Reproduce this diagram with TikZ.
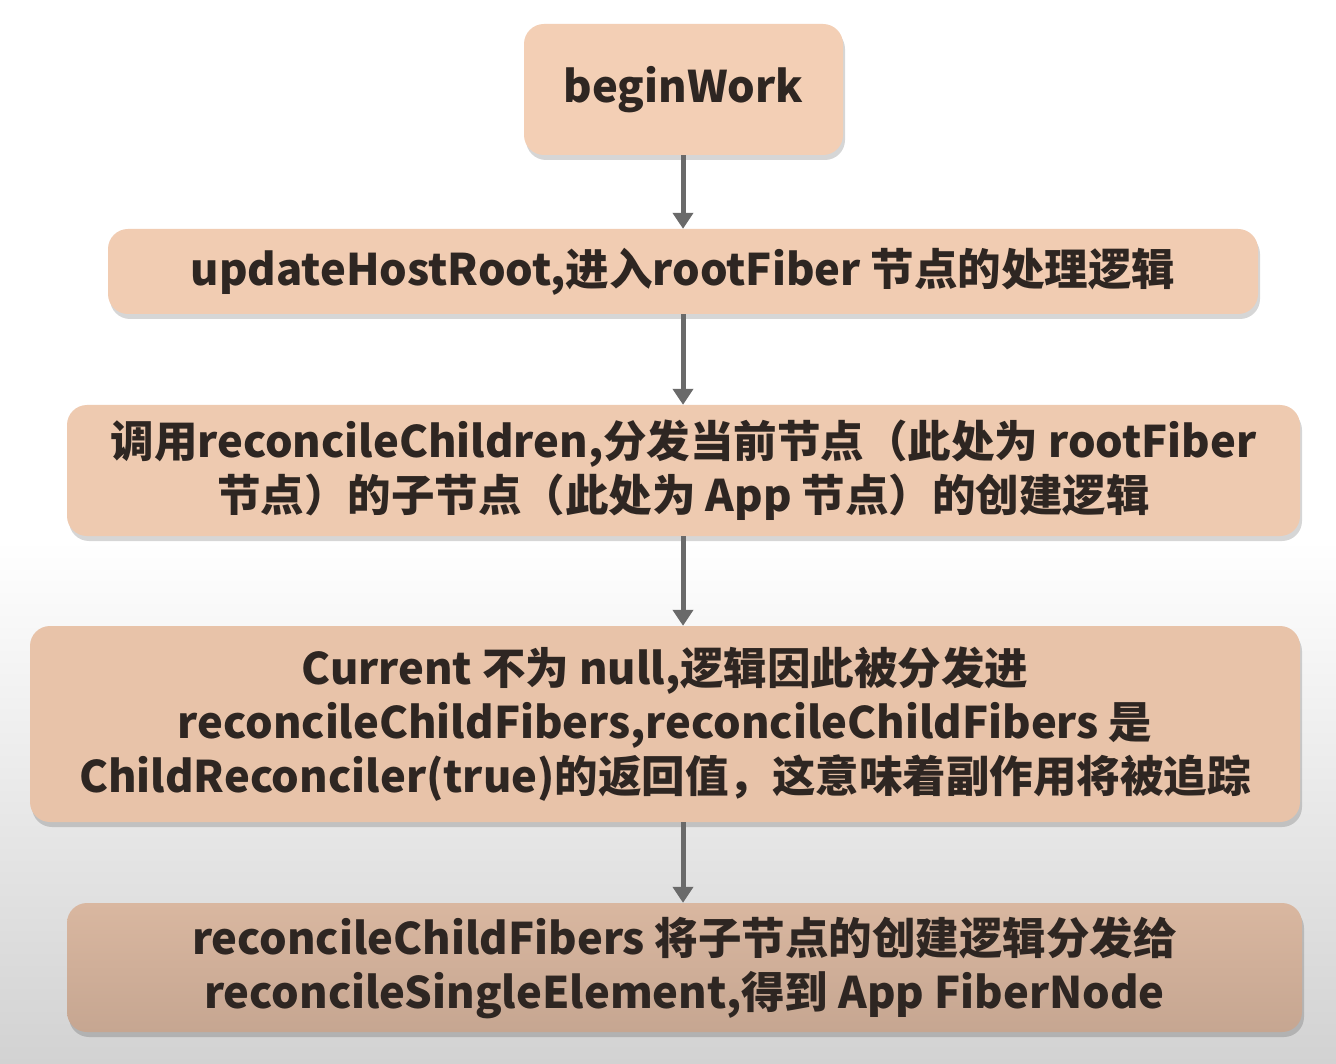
\documentclass[tikz,border=0pt]{standalone}
\usepackage{fontspec}
\setmainfont{Noto Sans CJK SC}
\usetikzlibrary{arrows.meta,shadows}
\definecolor{txt}{HTML}{2E2622}
\definecolor{arr}{HTML}{6A6A6A}
\definecolor{boxA}{HTML}{F3CFB5}
\definecolor{boxB}{HTML}{F1CCB2}
\definecolor{boxC}{HTML}{EECAB0}
\definecolor{boxD}{HTML}{E8C3A9}
\definecolor{boxEtop}{HTML}{D9B7A0}
\definecolor{boxEbot}{HTML}{C6A691}
\definecolor{bgbot}{HTML}{D2D2D2}
\begin{document}
\begin{tikzpicture}[x=1pt,y=-1pt,
  flowbox/.style={rounded corners=20pt, draw=none, align=center, text=txt,
    font=\fontsize{43.5}{54}\selectfont\bfseries, inner sep=0pt,
    drop shadow={shadow xshift=2pt, shadow yshift=-5pt, opacity=0.16, fill=black}},
  flowarrow/.style={draw=arr, line width=5pt, -{Triangle[width=20pt,length=16pt]}}]
\useasboundingbox (0,0) rectangle (1336,1064);
\fill[white] (0,0) rectangle (1336,540);
\shade[top color=white, bottom color=bgbot] (0,540) rectangle (1336,1064);
\node[flowbox, fill=boxA, minimum width=319pt, minimum height=131pt] (n1) at (683.5,89.5) {beginWork};
\node[flowbox, fill=boxB, minimum width=1150pt, minimum height=85pt] (n2) at (683,271.5) {updateHostRoot,进入rootFiber 节点的处理逻辑};
\node[flowbox, fill=boxC, minimum width=1233pt, minimum height=131pt] (n3) at (683.5,470.5) {调用reconcileChildren,分发当前节点（此处为 rootFiber\\节点）的子节点（此处为 App 节点）的创建逻辑};
\node[flowbox, fill=boxD, minimum width=1270pt, minimum height=196pt] (n4) at (665,724) {Current 不为 null,逻辑因此被分发进\\reconcileChildFibers,reconcileChildFibers 是\\ChildReconciler(true)的返回值，这意味着副作用将被追踪};
\node[flowbox, top color=boxEtop, bottom color=boxEbot, minimum width=1235pt, minimum height=129pt] (n5) at (684.5,967.5) {reconcileChildFibers 将子节点的创建逻辑分发给\\reconcileSingleElement,得到 App FiberNode};
\draw[flowarrow] (n1.south -| 683,0) -- (n2.north -| 683,0);
\draw[flowarrow] (n2.south -| 683,0) -- (n3.north -| 683,0);
\draw[flowarrow] (n3.south -| 683,0) -- (n4.north -| 683,0);
\draw[flowarrow] (n4.south -| 683,0) -- (n5.north -| 683,0);
\end{tikzpicture}
\end{document}
